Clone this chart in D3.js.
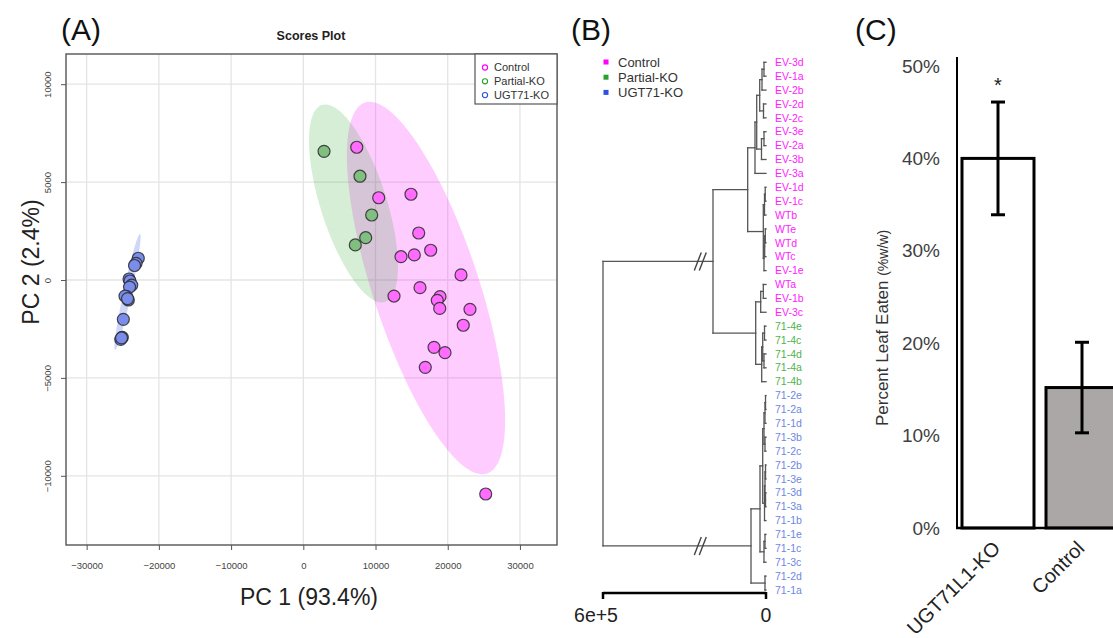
<!DOCTYPE html>
<html><head><meta charset="utf-8">
<script src="https://cdn.jsdelivr.net/npm/d3@7"></script>
<style>
body{margin:0;background:#fff;}
svg{display:block;font-family:"Liberation Sans",Arial,sans-serif;}
</style></head><body>
<svg id="chart" width="1113" height="638"></svg>
<script>
// ================= DATA =================
// Panel A : PCA scores
const pcaGroups = ["Control", "Partial-KO", "UGT71-KO"];
const controlPC1 = [7400, 10440, 14910, 15980, 13530, 15370, 17640, 21840, 12560, 16160, 18930, 18550, 18890, 23080, 22150, 18100, 19620, 16890, 25260];
const controlPC2 = [6780, 4200, 4380, 2400, 1190, 1280, 1520, 260, -820, -390, -850, -1040, -1450, -1500, -2310, -3440, -3710, -4460, -10930];
const partialPC1 = [2870, 7850, 9470, 8640, 7200];
const partialPC2 = [6570, 5300, 3320, 2160, 1790];
const ugtPC1 = [-22850, -23160, -23370, -24130, -24000, -23760, -24060, -24450, -24230, -24690, -24340, -24920, -25060, -25280, -25170];
const ugtPC2 = [1110, 850, 740, 50, -50, -260, -360, -850, -1020, -820, -950, -2010, -2930, -3030, -2960];
const pcaXTicks = [-30000, -20000, -10000, 0, 10000, 20000, 30000];
const pcaYTicks = [-10000, -5000, 0, 5000, 10000];
// 95% confidence ellipses: centre and two conjugate semi-axis vectors (data units)
const ellipseCenters = [[16990, -410], [6950, 3910], [-24340, -610]];
const ellipseAxisA = [[8446, -9474], [4362, -5031], [1731, 2962]];
const ellipseAxisB = [[6979, 843], [4348, 511], [540, -43]];

// Panel B : hierarchical clustering
const leafLabels = ["EV-3d","EV-1a","EV-2b","EV-2d","EV-2c","EV-3e","EV-2a","EV-3b","EV-3a","EV-1d","EV-1c","WTb","WTe","WTd","WTc","EV-1e","WTa","EV-1b","EV-3c",
  "71-4e","71-4c","71-4d","71-4a","71-4b",
  "71-2e","71-2a","71-1d","71-3b","71-2c","71-2b","71-3e","71-3d","71-3a","71-1b","71-1e","71-1c","71-3c","71-2d","71-1a"];
const leafGroups = [0,0,0,0,0,0,0,0,0,0,0,0,0,0,0,0,0,0,0, 1,1,1,1,1, 2,2,2,2,2,2,2,2,2,2,2,2,2,2,2];
// nested [height, child, child]; numbers are leaf indices
const dendroTree = [6e5,
  [195100,
    [67400,
      [40500,
        [34200,
          [23200, [14700, [7400, 0, 1], 2], [9200, 3, 4]],
          [16600, [7400, 5, 6], 7]],
        8],
      [9900, [5500, [2900, 9, 10], 11], [7400, [4800, [2600, 12, 13], 14], 15]]],
    [37900,
      [19500, [9900, 16, 17], 18],
      [15800, [12100, [5500, 19, 20], [7400, 21, 22]], 23]]],
  [55200,
    [22100,
      [12100,
        [7400, [3700, [1800, 24, 25], 26], [3700, 27, 28]],
        [5500, [3700, [1800, 29, 30], [1800, 31, 32]], 33]],
      [7400, [3700, 34, 35], 36]],
    [3700, 37, 38]]];
const scaleBarLabels = ["6e+5", "0"];

// Panel C : leaf consumption
const barCategories = ["UGT71L1-KO", "Control"];
const barValues = [0.400, 0.152];
const barErrors = [0.061, 0.049];
const barSignif = ["*", ""];
const barTicks = [0, 0.1, 0.2, 0.3, 0.4, 0.5];

// ================= DRAW =================
const svg = d3.select("#chart");

// ---------- Panel A ----------
const A = svg.append("g");
const L = 66, R = 557, T = 54, B = 545;
const ax = d3.scaleLinear().domain([-32860, 35130]).range([L, R]);
const ay = d3.scaleLinear().domain([-13534, 11542]).range([B, T]);
const grpColor = ["#ff00ff", "#2ca02c", "#3050e0"];
const ptFill = ["#ff6cff", "#80bf80", "#7b8deb"];
const ellFill = ["#ff00ff", "#32a832", "#4060e8"];

A.append("g").selectAll("line").data(pcaXTicks).join("line")
  .attr("x1", d => ax(d)).attr("x2", d => ax(d)).attr("y1", T).attr("y2", B)
  .attr("stroke", "#e4e4e4").attr("stroke-width", 1.3);
A.append("g").selectAll("line").data(pcaYTicks).join("line")
  .attr("y1", d => ay(d)).attr("y2", d => ay(d)).attr("x1", L).attr("x2", R)
  .attr("stroke", "#e4e4e4").attr("stroke-width", 1.3);

const tSteps = d3.range(0, 2 * Math.PI + 0.001, Math.PI / 90);
const ellLine = d3.line();
[0, 1, 2].forEach(i => {
  const c = ellipseCenters[i], a = ellipseAxisA[i], b = ellipseAxisB[i];
  const pts = tSteps.map(t => [ax(c[0] + a[0] * Math.cos(t) + b[0] * Math.sin(t)),
                               ay(c[1] + a[1] * Math.cos(t) + b[1] * Math.sin(t))]);
  A.append("path").attr("d", ellLine(pts) + "Z")
    .attr("fill", ellFill[i]).attr("fill-opacity", i === 2 ? 0.25 : 0.2).attr("stroke", "none");
});

const pcaSets = [[controlPC1, controlPC2], [partialPC1, partialPC2], [ugtPC1, ugtPC2]];
pcaSets.forEach((s, gi) => {
  A.append("g").selectAll("circle").data(d3.range(s[0].length)).join("circle")
    .attr("cx", i => ax(s[0][i])).attr("cy", i => ay(s[1][i])).attr("r", 6)
    .attr("fill", ptFill[gi]).attr("stroke", "#2a2a2a").attr("stroke-opacity", 0.85).attr("stroke-width", 1.2);
});

A.append("rect").attr("x", L).attr("y", T).attr("width", R - L).attr("height", B - T)
  .attr("fill", "none").attr("stroke", "#555").attr("stroke-width", 1.4);

const xAx = A.append("g").attr("transform", `translate(0,${B})`)
  .call(d3.axisBottom(ax).tickValues(pcaXTicks).tickSize(5).tickPadding(12).tickFormat(d3.format("d")));
xAx.select(".domain").remove();
xAx.selectAll("line").attr("stroke", "#555");
xAx.selectAll("text").attr("font-size", 9.5).attr("fill", "#444").attr("font-family", "Liberation Sans");

const yAx = A.append("g").attr("transform", `translate(${L},0)`)
  .call(d3.axisLeft(ay).tickValues(pcaYTicks).tickSize(5).tickFormat(d3.format("d")));
yAx.select(".domain").remove();
yAx.selectAll("line").attr("stroke", "#555");
yAx.selectAll("text").attr("font-size", 9.5).attr("fill", "#444").attr("font-family", "Liberation Sans")
  .attr("text-anchor", "middle").attr("x", null).attr("dy", null)
  .attr("transform", "translate(-15,0) rotate(-90)");

A.append("text").attr("x", 309).attr("y", 605).attr("text-anchor", "middle")
  .attr("font-size", 23).attr("fill", "#222").text("PC 1 (93.4%)");
A.append("text").attr("transform", "translate(39,262) rotate(-90)").attr("text-anchor", "middle")
  .attr("font-size", 23).attr("fill", "#222").text("PC 2 (2.4%)");
A.append("text").attr("x", 311).attr("y", 40).attr("text-anchor", "middle")
  .attr("font-size", 12.5).attr("font-weight", "bold").attr("fill", "#222").text("Scores Plot");

const legA = A.append("g");
legA.append("rect").attr("x", 475).attr("y", T).attr("width", R - 475).attr("height", 50)
  .attr("fill", "#fff").attr("stroke", "#555").attr("stroke-width", 1.2);
pcaGroups.forEach((g, i) => {
  legA.append("circle").attr("cx", 485).attr("cy", 67.5 + i * 13.8).attr("r", 2.6)
    .attr("fill", "none").attr("stroke", grpColor[i]).attr("stroke-width", 1.1);
  legA.append("text").attr("x", 494).attr("y", 67.5 + i * 13.8).attr("dy", "0.35em")
    .attr("font-size", 11).attr("fill", "#333").text(g);
});
svg.append("text").attr("x", 61).attr("y", 40).attr("font-size", 30).attr("fill", "#111").text("(A)");

// ---------- Panel B ----------
const Bg = svg.append("g");
const hx = d3.scaleLinear().domain([0, 6e5]).range([766, 603]);
const ly = d3.scalePoint().domain(d3.range(leafLabels.length)).range([62.3, 590]);
const root = d3.hierarchy(dendroTree, d => Array.isArray(d) ? d.slice(1) : null);
root.eachAfter(n => {
  n.h = Array.isArray(n.data) ? n.data[0] : 0;
  n.yy = n.children ? d3.mean(n.children, c => c.yy) : ly(n.data);
});
const segs = [];
root.each(n => {
  if (!n.children) return;
  const ys = n.children.map(c => c.yy);
  segs.push([hx(n.h), d3.min(ys), hx(n.h), d3.max(ys)]);
  n.children.forEach(c => segs.push([hx(n.h), c.yy, hx(c.h), c.yy]));
});
Bg.append("g").selectAll("line").data(segs).join("line")
  .attr("x1", d => d[0]).attr("y1", d => d[1]).attr("x2", d => d[2]).attr("y2", d => d[3])
  .attr("stroke", "#555").attr("stroke-width", 1.3).attr("stroke-linecap", "square");
// broken-branch marks on the two root branches
const bx = hx(2.4e5);
root.children.forEach(c => {
  [-2.5, 2.5].forEach(o => {
    Bg.append("line").attr("x1", bx + o - 4).attr("y1", c.yy + 9).attr("x2", bx + o + 3).attr("y2", c.yy - 9)
      .attr("stroke", "#444").attr("stroke-width", 1.4);
  });
});
const leafColor = ["#ff22ff", "#4db34d", "#6d87e3"];
Bg.append("g").selectAll("text").data(leafLabels).join("text")
  .attr("x", 775).attr("y", (d, i) => ly(i)).attr("dy", "0.35em")
  .attr("font-size", 10.5).attr("fill", (d, i) => leafColor[leafGroups[i]]).text(d => d);
const legCol = ["#ff00ff", "#2ca02c", "#3050e0"];
pcaGroups.forEach((g, i) => {
  Bg.append("rect").attr("x", 603.5).attr("y", 59.5 + i * 15.2).attr("width", 5).attr("height", 5).attr("fill", legCol[i]);
  Bg.append("text").attr("x", 618).attr("y", 62 + i * 15.2).attr("dy", "0.35em")
    .attr("font-size", 13).attr("fill", "#333").text(g);
});
// scale bar
const sbY = 593;
Bg.append("line").attr("x1", hx(6e5)).attr("x2", hx(0)).attr("y1", sbY).attr("y2", sbY)
  .attr("stroke", "#000").attr("stroke-width", 2.5);
[6e5, 0].forEach((v, i) => {
  Bg.append("line").attr("x1", hx(v)).attr("x2", hx(v)).attr("y1", sbY - 1).attr("y2", sbY + 6)
    .attr("stroke", "#000").attr("stroke-width", 2.5);
  Bg.append("text").attr("x", hx(v) + (i === 0 ? -7 : 0)).attr("y", 622).attr("text-anchor", "middle")
    .attr("font-size", 19.5).attr("fill", "#222").text(scaleBarLabels[i]);
});
svg.append("text").attr("x", 571).attr("y", 40).attr("font-size", 30).attr("fill", "#111").text("(B)");

// ---------- Panel C ----------
const C = svg.append("g");
const cy = d3.scaleLinear().domain([0, 0.5]).range([528, 66]);
const cx = d3.scaleBand().domain(barCategories).range([956, 1124]).paddingInner(0.143).paddingOuter(0.0714);
const barFill = ["#ffffff", "#aba7a6"];
C.selectAll("rect.bar").data(barCategories).join("rect").attr("class", "bar")
  .attr("x", d => cx(d)).attr("y", (d, i) => cy(barValues[i])).attr("width", cx.bandwidth())
  .attr("height", (d, i) => cy(0) - cy(barValues[i]))
  .attr("fill", (d, i) => barFill[i]).attr("stroke", "#000").attr("stroke-width", 3);
barCategories.forEach((d, i) => {
  const m = cx(d) + cx.bandwidth() / 2;
  const lo = cy(barValues[i] - barErrors[i]), hi = cy(barValues[i] + barErrors[i]);
  C.append("line").attr("x1", m).attr("x2", m).attr("y1", lo).attr("y2", hi).attr("stroke", "#000").attr("stroke-width", 3);
  [lo, hi].forEach(y => C.append("line").attr("x1", m - 7).attr("x2", m + 7).attr("y1", y).attr("y2", y)
    .attr("stroke", "#000").attr("stroke-width", 3));
  if (barSignif[i]) C.append("text").attr("x", m).attr("y", hi - 10).attr("text-anchor", "middle")
    .attr("font-size", 20).attr("fill", "#222").text(barSignif[i]);
  C.append("text").attr("transform", `translate(${m - 7},539) rotate(-45)`).attr("text-anchor", "end")
    .attr("dy", "0.75em").attr("font-size", 20).attr("fill", "#222").text(d);
});
C.append("line").attr("x1", 957).attr("x2", 957).attr("y1", 57).attr("y2", cy(0)).attr("stroke", "#000").attr("stroke-width", 2);
C.append("line").attr("x1", 956).attr("x2", 1113).attr("y1", cy(0)).attr("y2", cy(0)).attr("stroke", "#000").attr("stroke-width", 2.5);
C.selectAll("text.tk").data(barTicks).join("text").attr("class", "tk")
  .attr("x", 940).attr("y", d => cy(d)).attr("dy", "0.35em").attr("text-anchor", "end")
  .attr("font-size", 19).attr("fill", "#404040").text(d3.format(".0%"));
const yt = C.append("text").attr("transform", "translate(888,328) rotate(-90)").attr("text-anchor", "middle").attr("fill", "#333");
yt.append("tspan").attr("font-size", 17).text("Percent Leaf Eaten ");
yt.append("tspan").attr("font-size", 14).text("(%w/w)");
svg.append("text").attr("x", 855).attr("y", 40).attr("font-size", 30).attr("fill", "#111").text("(C)");
</script>
</body></html>
